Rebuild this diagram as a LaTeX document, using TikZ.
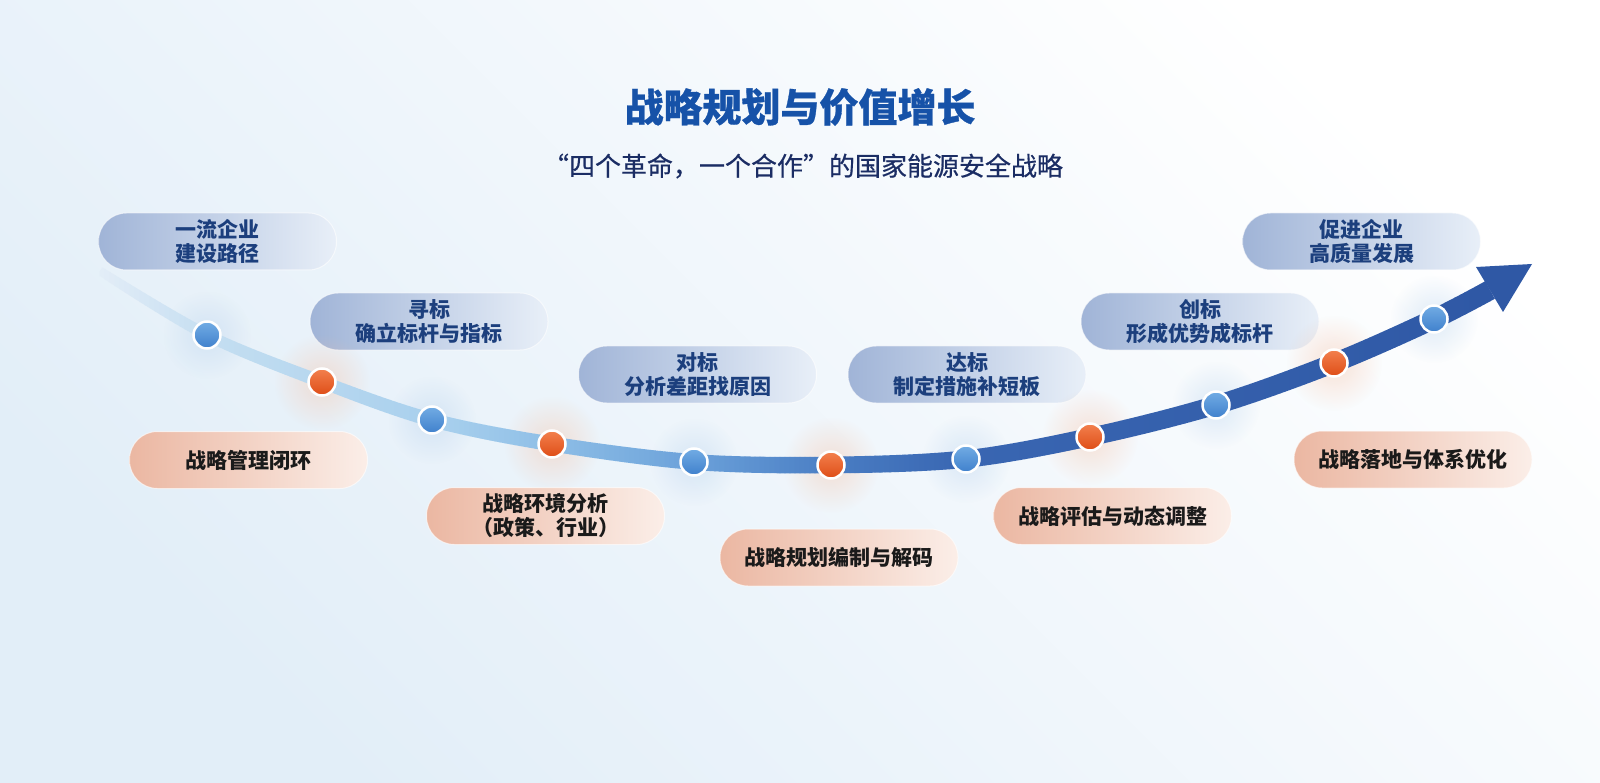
\documentclass[tikz,border=0pt]{standalone}
\usepackage{fontspec}
\newfontfamily\cjk{Noto Sans CJK SC}
\newfontfamily\cjkmid[FakeBold=0.5]{Noto Sans CJK SC}
\newfontfamily\cjktitle[BoldFeatures={FakeBold=0.8}]{Noto Sans CJK SC}
\usetikzlibrary{fadings}
\definecolor{bgBL}{HTML}{E2EEF8}
\definecolor{bgM}{HTML}{F6F9FC}
\definecolor{bs0}{HTML}{E3EDF7}
\definecolor{bs1}{HTML}{C4DEF1}
\definecolor{bs2}{HTML}{A7CFED}
\definecolor{bs3}{HTML}{8CBDE6}
\definecolor{bs4}{HTML}{6AA0D9}
\definecolor{bs5}{HTML}{4A7EC4}
\definecolor{bs6}{HTML}{3966B2}
\definecolor{bs7}{HTML}{2F58A5}
\definecolor{dotbT}{HTML}{72ACE4}
\definecolor{dotbB}{HTML}{3F80CC}
\definecolor{dotoT}{HTML}{F3814E}
\definecolor{dotoB}{HTML}{DE4C16}
\definecolor{haloB}{HTML}{B9D3EE}
\definecolor{haloO}{HTML}{F6C2A6}
\definecolor{cbL}{HTML}{A0B4D7}
\definecolor{cbR}{HTML}{E8EFF8}
\definecolor{coL}{HTML}{EBB7A2}
\definecolor{coR}{HTML}{FBEEE8}
\definecolor{cbText}{HTML}{1C3F7D}
\definecolor{coText}{HTML}{1A1A1A}
\definecolor{titleC}{HTML}{1652A8}
\definecolor{subC}{HTML}{1B2D64}
\tikzfading[name=glowfade, inner color=transparent!55, outer color=transparent!100]
\newcommand\bandcol[1]{%
  \ifdim#1pt<0.08pt \pgfmathtruncatemacro\pp{#1/0.08*100}\colorlet{bandc}{bs1!\pp!bs0}%
  \else\ifdim#1pt<0.25pt \pgfmathtruncatemacro\pp{(#1-0.08)/0.17*100}\colorlet{bandc}{bs2!\pp!bs1}%
  \else\ifdim#1pt<0.33pt \pgfmathtruncatemacro\pp{(#1-0.25)/0.08*100}\colorlet{bandc}{bs3!\pp!bs2}%
  \else\ifdim#1pt<0.43pt \pgfmathtruncatemacro\pp{(#1-0.33)/0.10*100}\colorlet{bandc}{bs4!\pp!bs3}%
  \else\ifdim#1pt<0.525pt \pgfmathtruncatemacro\pp{(#1-0.43)/0.095*100}\colorlet{bandc}{bs5!\pp!bs4}%
  \else\ifdim#1pt<0.62pt \pgfmathtruncatemacro\pp{(#1-0.525)/0.095*100}\colorlet{bandc}{bs6!\pp!bs5}%
  \else \pgfmathtruncatemacro\pp{min(100,(#1-0.62)/0.38*100)}\colorlet{bandc}{bs7!\pp!bs6}%
  \fi\fi\fi\fi\fi\fi}
\begin{document}
\begin{tikzpicture}[x=1pt,y=-1pt,
  card/.style={rounded corners=28pt, minimum width=238pt, minimum height=57pt,
    draw=white, draw opacity=0.6, line width=1pt,
    inner sep=0pt, align=center, font=\cjk\bfseries\fontsize{21}{24}\selectfont},
  bluecard/.style={card, left color=cbL, right color=cbR, text=cbText},
  orgcard/.style={card, left color=coL, right color=coR, text=coText},
  dotbase/.style={circle, minimum size=27pt, inner sep=0pt, draw=white, line width=2.5pt},
  dotb/.style={dotbase, top color=dotbT, bottom color=dotbB},
  doto/.style={dotbase, top color=dotoT, bottom color=dotoB},
  halob/.style={fill=haloB, path fading=glowfade},
  haloo/.style={fill=haloO, path fading=glowfade}]
\useasboundingbox (0,0) rectangle (1600,783);
\shade[top color=white, middle color=bgM, bottom color=bgBL, shading angle=-45] (0,0) rectangle (1600,783);

% titles
\node[text=titleC, font=\cjktitle\bfseries\fontsize{39}{44}\selectfont] (title) at (800,107) {战略规划与价值增长};
\node[text=subC, font=\cjkmid\fontsize{26}{30}\selectfont] (sub) at (803,166) {“四个革命，一个合作”的国家能源安全战略};

% cards
\node[bluecard] (kA) at (217.5,241.5) {一流企业\\建设路径};
\node[bluecard] (kB) at (429,321.5) {寻标\\确立标杆与指标};
\node[orgcard]  (kC) at (248.5,460) {战略管理闭环};
\node[bluecard] (kD) at (697.5,374.5) {对标\\分析差距找原因};
\node[bluecard] (kE) at (967,374.5) {达标\\制定措施补短板};
\node[orgcard]  (kF) at (545.5,516) {战略环境分析\\（政策、行业）};
\node[orgcard]  (kG) at (839,557.5) {战略规划编制与解码};
\node[orgcard]  (kH) at (1112.5,516) {战略评估与动态调整};
\node[bluecard] (kI) at (1200,321.5) {创标\\形成优势成标杆};
\node[bluecard] (kJ) at (1361.5,241.5) {促进企业\\高质量发展};
\node[orgcard]  (kK) at (1413,459.5) {战略落地与体系优化};

% curve points
\coordinate (c0) at (100,271);
\coordinate (c1) at (207,335);
\coordinate (c2) at (322,382);
\coordinate (c3) at (432,420);
\coordinate (c4) at (552,444);
\coordinate (c5) at (694,462);
\coordinate (c6) at (831,465);
\coordinate (c7) at (966,459);
\coordinate (c8) at (1090,437);
\coordinate (c9) at (1216,405);
\coordinate (c10) at (1334,363);
\coordinate (c11) at (1434,319);
\coordinate (cend) at (1490,290);
\coordinate (tip) at (1532,264);
\coordinate (h1) at (1476,267);
\coordinate (h2) at (1503,312);

% halos
\foreach \i in {1,3,5,7,9,11} \fill[halob] (c\i) circle (44);
\foreach \i in {2,4,6,8,10} \fill[haloo] (c\i) circle (48);

% band (drawn strip by strip for the colour and width change)
\foreach \k in {0,...,278} {
  \pgfmathsetmacro\xa{100+\k*5}
  \pgfmathsetmacro\ff{min(1,(\k*5+2.5)/1390)}
  \bandcol{\ff}
  \pgfmathsetmacro\ww{8+12*sqrt(\ff)}
  \begin{scope}
    \clip (\xa-0.4,0) rectangle (\xa+5.4,783);
    \draw[bandc, line width=\ww pt] plot[smooth, tension=0.55] coordinates {(c0) (c1) (c2) (c3) (c4) (c5) (c6) (c7) (c8) (c9) (c10) (c11) (cend)};
  \end{scope}
}
\fill[bs7] (tip) -- (h1) -- (h2) -- cycle;

% dots
\node[dotb] (d1) at (c1) {};
\node[doto] (d2) at (c2) {};
\node[dotb] (d3) at (c3) {};
\node[doto] (d4) at (c4) {};
\node[dotb] (d5) at (c5) {};
\node[doto] (d6) at (c6) {};
\node[dotb] (d7) at (c7) {};
\node[doto] (d8) at (c8) {};
\node[dotb] (d9) at (c9) {};
\node[doto] (d10) at (c10) {};
\node[dotb] (d11) at (c11) {};
\end{tikzpicture}
\end{document}
